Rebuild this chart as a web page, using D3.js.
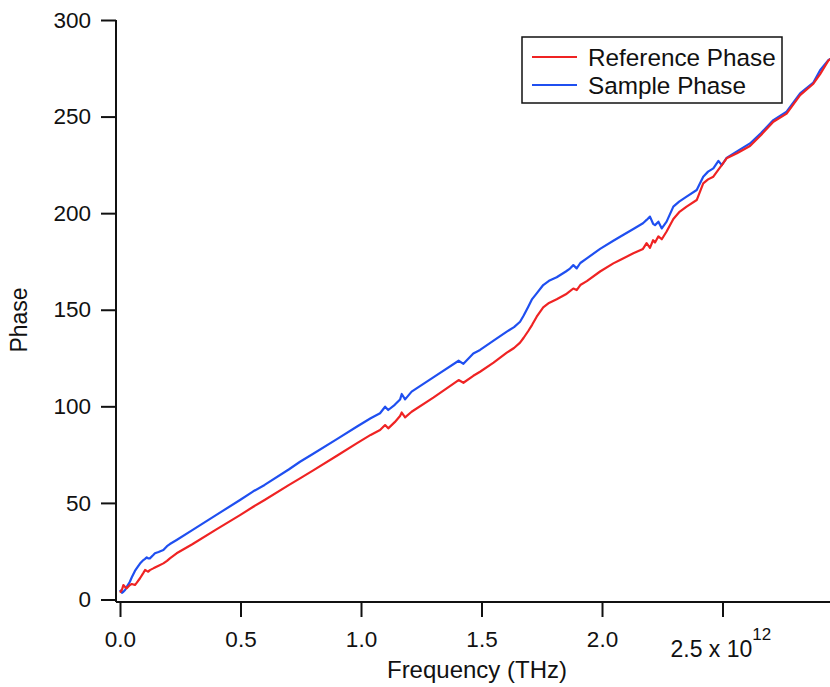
<!DOCTYPE html>
<html lang="en">
<head>
<meta charset="UTF-8">
<title>Phase vs Frequency</title>
<style>
    body { margin: 0; background: #fff; }
    svg { display: block; font-family: "Liberation Sans", Arial, sans-serif; }
</style>
</head>
<body>
<div id="chart"></div>
<script src="https://d3js.org/d3.v7.min.js"></script>
<script>
    // frequency in THz (axis multiplier shown as x 10^12)
    const freq = [
        0.000, 0.008, 0.014, 0.021, 0.028, 0.041, 0.049, 0.062, 0.069, 0.083,
        0.097, 0.104, 0.111, 0.117, 0.124, 0.138, 0.145, 0.160, 0.180, 0.195,
        0.207, 0.235, 0.300, 0.400, 0.498, 0.553, 0.600, 0.700, 0.747, 0.800,
        0.900, 0.982, 1.040, 1.079, 1.100, 1.113, 1.140, 1.162, 1.169, 1.183,
        1.210, 1.300, 1.405, 1.425, 1.466, 1.494, 1.550, 1.605, 1.635, 1.660,
        1.675, 1.694, 1.710, 1.729, 1.756, 1.780, 1.812, 1.850, 1.867, 1.881,
        1.895, 1.910, 1.937, 1.992, 2.047, 2.075, 2.130, 2.170, 2.185, 2.199,
        2.212, 2.220, 2.234, 2.248, 2.268, 2.296, 2.320, 2.351, 2.393, 2.420,
        2.440, 2.462, 2.483, 2.497, 2.517, 2.560, 2.614, 2.660, 2.711, 2.766,
        2.822, 2.877, 2.905, 2.939, 2.960
    ];
    const refPhase = [
        3.5, 5.0, 7.5, 6.5, 5.8, 7.5, 8.0, 7.5, 8.6, 11.0,
        13.8, 15.3, 14.8, 14.4, 15.2, 16.1, 16.6, 17.5, 18.7, 20.0,
        21.3, 23.9, 28.6, 36.3, 43.7, 48.0, 51.5, 59.2, 62.7, 66.7,
        74.4, 80.8, 85.2, 87.7, 90.3, 88.6, 91.8, 95.0, 96.8, 94.3,
        97.2, 104.5, 113.6, 112.2, 115.8, 117.9, 122.6, 127.8, 130.2, 133.0,
        135.5, 139.0, 142.2, 146.4, 151.2, 153.5, 155.4, 158.0, 159.6, 161.0,
        160.2, 162.8, 164.8, 169.8, 174.0, 175.8, 179.2, 181.5, 184.5, 182.0,
        186.0, 184.8, 188.0, 186.5, 190.5, 197.0, 200.5, 203.4, 206.8, 215.4,
        217.5, 218.9, 222.5, 224.9, 228.4, 231.0, 234.8, 240.5, 247.3, 251.5,
        261.1, 267.0, 272.0, 279.0, 281.0
    ];
    const samplePhase = [
        5.0, 3.5, 4.0, 4.9, 6.5, 9.2, 11.5, 14.8, 16.1, 18.6,
        20.4, 21.0, 21.8, 21.3, 21.3, 23.0, 23.9, 24.6, 25.6, 27.6,
        28.7, 30.8, 35.9, 43.8, 51.5, 56.0, 59.3, 67.3, 71.3, 75.3,
        83.0, 89.4, 93.8, 96.4, 99.8, 98.1, 100.8, 103.5, 106.4, 103.6,
        107.6, 115.0, 123.6, 122.0, 127.4, 129.2, 134.0, 138.7, 141.0, 143.8,
        147.0, 151.6, 155.5, 158.5, 162.8, 165.0, 166.8, 169.8, 171.3, 173.1,
        171.4, 174.2, 176.6, 181.5, 185.7, 187.8, 191.8, 194.8, 196.5, 198.2,
        194.5, 193.8, 195.6, 192.1, 195.6, 203.4, 206.0, 208.6, 212.0, 218.9,
        221.5, 223.2, 227.1, 224.9, 228.6, 232.0, 236.1, 241.5, 248.2, 252.5,
        262.0, 267.6, 274.0, 279.2, 281.0
    ];
    const xTicks = [0, 0.5, 1.0, 1.5, 2.0, 2.5];
    const yTicks = [0, 50, 100, 150, 200, 250, 300];
    const seriesNames = ['Reference Phase', 'Sample Phase'];
    const seriesColors = ['#ef2323', '#1f4ff0'];

    const width = 830;
    const height = 687;
    const m = { left: 116, right: 830, top: 20, bottom: 602 };

    const svg = d3.select('#chart')
        .append('svg')
        .attr('width', width)
        .attr('height', height);

    const x = d3.scaleLinear().domain([-0.0166, 2.946]).range([m.left, m.right]);
    const y = d3.scaleLinear().domain([-1.3, 300]).range([m.bottom, m.top]);

    svg.append('clipPath').attr('id', 'plot')
        .append('rect')
        .attr('x', m.left).attr('y', 0)
        .attr('width', m.right - m.left).attr('height', m.bottom);

    // lines: sample first, reference drawn on top
    const line = d3.line().x(d => x(d[0])).y(d => y(d[1]));
    const series = [
        { name: seriesNames[1], color: seriesColors[1], values: freq.map((f, i) => [f, samplePhase[i]]) },
        { name: seriesNames[0], color: seriesColors[0], values: freq.map((f, i) => [f, refPhase[i]]) }
    ];
    svg.append('g').attr('clip-path', 'url(#plot)')
        .selectAll('path').data(series)
        .enter().append('path')
        .attr('d', d => line(d.values))
        .attr('fill', 'none')
        .attr('stroke', d => d.color)
        .attr('stroke-width', 2.2)
        .attr('stroke-linejoin', 'round');

    // y axis
    const yAxis = d3.axisLeft(y).tickValues(yTicks).tickSize(15).tickPadding(10).tickFormat(d3.format('d'));
    const gy = svg.append('g').attr('transform', `translate(${m.left},0)`).call(yAxis);
    gy.select('.domain').remove();
    gy.append('line')
        .attr('x1', 0).attr('x2', 0).attr('y1', m.top).attr('y2', m.bottom)
        .attr('stroke', '#111').attr('stroke-width', 2);

    // x axis
    const xAxis = d3.axisBottom(x).tickValues(xTicks).tickSize(15).tickPadding(14)
        .tickFormat(d => d === 2.5 ? '' : d3.format('.1f')(d));
    const gx = svg.append('g').attr('transform', `translate(0,${m.bottom})`).call(xAxis);
    gx.select('.domain').remove();
    gx.append('line')
        .attr('x1', m.left).attr('x2', m.right).attr('y1', 0).attr('y2', 0)
        .attr('stroke', '#111').attr('stroke-width', 2);

    [gx, gy].forEach(g => {
        g.selectAll('.tick line').attr('stroke', '#111').attr('stroke-width', 2);
        g.selectAll('.tick text').attr('font-size', 22.5).attr('fill', '#111')
            .attr('font-family', '"Liberation Sans", Arial, sans-serif');
    });

    // last x tick label with multiplier
    const lab = svg.append('text')
        .attr('x', x(2.5) - 52)
        .attr('y', 657)
        .attr('font-size', 23)
        .attr('fill', '#111');
    lab.append('tspan').text('2.5 x 10');
    lab.append('tspan').attr('dy', -17).attr('font-size', 17).text('12');

    // axis titles
    svg.append('text')
        .attr('x', 477).attr('y', 678)
        .attr('text-anchor', 'middle')
        .attr('font-size', 24).attr('fill', '#111')
        .text('Frequency (THz)');
    svg.append('text')
        .attr('transform', 'translate(27,320) rotate(-90)')
        .attr('text-anchor', 'middle')
        .attr('font-size', 23).attr('fill', '#111')
        .text('Phase');

    // legend
    const lg = svg.append('g');
    lg.append('rect')
        .attr('x', 522).attr('y', 37).attr('width', 260).attr('height', 66)
        .attr('fill', '#fff').attr('stroke', '#111').attr('stroke-width', 1.5);
    const items = lg.selectAll('.item').data(seriesNames)
        .enter().append('g').attr('class', 'item')
        .attr('transform', (d, i) => `translate(0,${57 + i * 28})`);
    items.append('line')
        .attr('x1', 532).attr('x2', 577).attr('y1', 0).attr('y2', 0)
        .attr('stroke', (d, i) => seriesColors[i]).attr('stroke-width', 2.2);
    items.append('text')
        .attr('x', 588).attr('y', 8.5)
        .attr('font-size', 24.3).attr('fill', '#111')
        .text(d => d);
</script>
</body>
</html>
